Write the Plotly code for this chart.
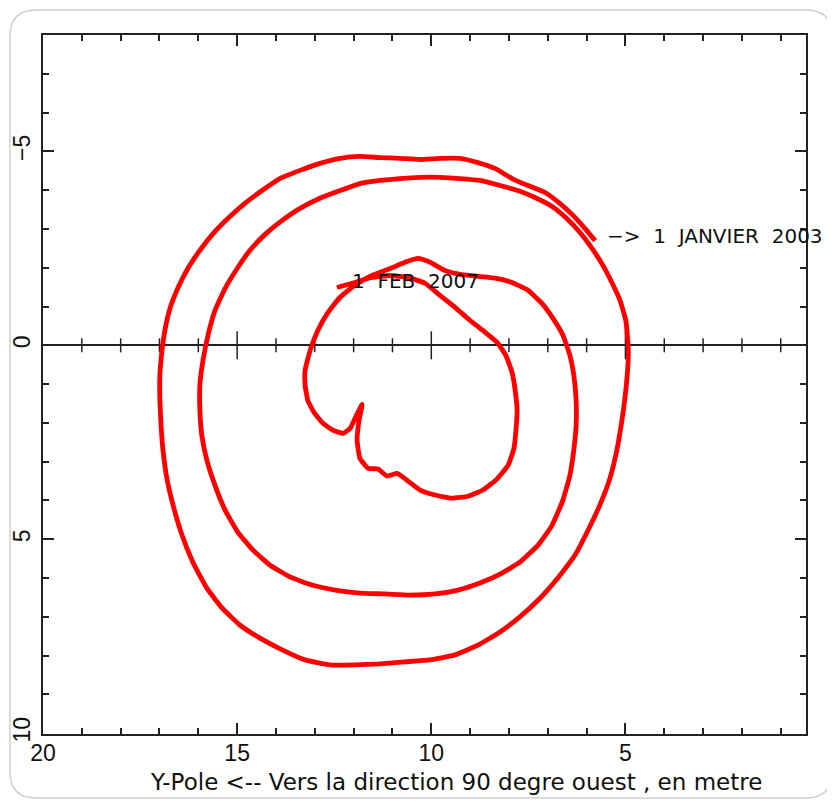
import plotly.graph_objects as go

# Polar motion track (Y-pole, X-pole) in metres, 1 Jan 2003 -> 1 Feb 2007
x_pole = [5.78, 6.04, 6.35, 6.69, 7.07, 7.51, 7.92, 8.36, 8.80, 9.26,
          9.78, 10.29, 10.81, 11.32, 11.84, 12.35, 12.87, 13.38, 13.90, 14.36,
          14.80, 15.24, 15.62, 15.96, 16.27, 16.52, 16.73, 16.86, 16.94, 16.99,
          16.99, 16.96, 16.91, 16.81, 16.65, 16.42, 16.14, 15.78, 15.39, 14.93,
          14.41, 13.84, 13.25, 12.61, 11.97, 11.32, 10.68, 10.03, 9.39, 8.80,
          8.23, 7.72, 7.20, 6.74, 6.30, 5.96, 5.66, 5.40, 5.22, 5.09,
          4.99, 4.93, 4.93, 4.99, 5.14, 5.35, 5.58, 5.86, 6.17, 6.51,
          6.89, 7.33, 7.77, 8.23, 8.75, 9.26, 9.78, 10.29, 10.81, 11.32,
          11.84, 12.35, 12.87, 13.38, 13.84, 14.28, 14.67, 15.00, 15.31, 15.57,
          15.75, 15.88, 15.96, 15.96, 15.91, 15.78, 15.57, 15.31, 14.98, 14.59,
          14.15, 13.64, 13.07, 12.48, 11.84, 11.19, 10.55, 9.90, 9.31, 8.75,
          8.23, 7.72, 7.25, 6.89, 6.61, 6.43, 6.33, 6.27, 6.27, 6.33,
          6.43, 6.61, 6.87, 7.15, 7.51, 7.92, 8.36, 8.80, 9.26, 9.65,
          10.03, 10.34, 10.68, 11.06, 11.53, 11.97, 12.35, 12.66, 12.92, 13.12,
          13.25, 13.25, 13.18, 13.02, 12.79, 12.53, 12.27, 12.09, 11.94, 11.78,
          11.86, 11.91, 11.84, 11.63, 11.37, 11.14, 10.88, 10.60, 10.29, 9.90,
          9.47, 9.05, 8.67, 8.31, 8.02, 7.87, 7.82, 7.79, 7.84, 7.92,
          8.08, 8.31, 8.62, 9.00, 9.39, 9.78, 10.16, 10.60, 11.06, 11.53,
          11.97, 12.43]
y_pole = [-2.70, -3.01, -3.35, -3.66, -3.94, -4.12, -4.30, -4.56, -4.71, -4.82,
          -4.82, -4.79, -4.82, -4.84, -4.87, -4.82, -4.69, -4.51, -4.30, -3.99,
          -3.66, -3.27, -2.88, -2.45, -1.98, -1.49, -0.95, -0.39, 0.18, 0.77,
          1.42, 2.06, 2.70, 3.43, 4.12, 4.89, 5.59, 6.26, 6.77, 7.21,
          7.55, 7.85, 8.11, 8.24, 8.24, 8.21, 8.16, 8.11, 7.98, 7.73,
          7.39, 7.00, 6.52, 6.00, 5.41, 4.76, 4.12, 3.43, 2.70, 1.93,
          1.16, 0.39, 0.00, -0.64, -1.16, -1.62, -2.06, -2.50, -2.91, -3.27,
          -3.58, -3.81, -3.99, -4.12, -4.25, -4.30, -4.33, -4.33, -4.30, -4.25,
          -4.17, -3.99, -3.79, -3.53, -3.22, -2.86, -2.45, -1.98, -1.47, -0.90,
          -0.26, 0.39, 1.03, 1.67, 2.32, 2.96, 3.61, 4.25, 4.82, 5.28,
          5.67, 5.97, 6.18, 6.31, 6.39, 6.41, 6.44, 6.41, 6.31, 6.13,
          5.90, 5.59, 5.15, 4.64, 3.99, 3.35, 2.70, 2.06, 1.42, 0.77,
          0.26, -0.26, -0.70, -1.08, -1.42, -1.62, -1.73, -1.78, -1.83, -1.93,
          -2.14, -2.24, -2.14, -1.98, -1.80, -1.55, -1.24, -0.85, -0.39, 0.13,
          0.64, 1.03, 1.42, 1.73, 2.01, 2.19, 2.27, 2.14, 1.83, 1.52,
          1.93, 2.45, 2.91, 3.17, 3.19, 3.37, 3.30, 3.50, 3.73, 3.86,
          3.94, 3.89, 3.73, 3.45, 3.09, 2.65, 2.19, 1.67, 1.16, 0.70,
          0.26, -0.08, -0.34, -0.64, -0.98, -1.29, -1.60, -1.75, -1.80, -1.75,
          -1.62, -1.49]

# tick marks drawn along the y = 0 line
zero_minor = [1, 2, 3, 4, 6, 7, 8, 9, 11, 12, 13, 14, 16, 17, 18, 19]
zero_major = [5, 10, 15]

# labels
start_label = "\u2212&gt;\u00a0\u00a01\u00a0\u00a0JANVIER\u00a0\u00a02003"
start_pos = (5.53, -2.83)
end_label = "1\u00a0\u00a0FEB\u00a0\u00a02007"
end_pos = (12.09, -1.67)
x_title = "Y-Pole &lt;-- Vers la direction 90 degre ouest , en metre"

# page body has an 8px margin; figure is sized so the plot lands in place
OFF = 8
W, H = 835 - OFF, 805 - OFF
ML, MR, MT, MB = 43 - OFF, 29, 35 - OFF, 71
INK = "#222222"
FONT = "Liberation Sans, Arial, sans-serif"
TFONT = "DejaVu Sans, Verdana, sans-serif"

fig = go.Figure()
fig.add_trace(go.Scatter(
    x=zero_minor, y=[0] * len(zero_minor), mode="markers", hoverinfo="skip",
    marker=dict(symbol="line-ns", size=10, line=dict(width=1.5, color=INK)),
    showlegend=False))
fig.add_trace(go.Scatter(
    x=zero_major, y=[0] * len(zero_major), mode="markers", hoverinfo="skip",
    marker=dict(symbol="line-ns", size=20, line=dict(width=1.5, color=INK)),
    showlegend=False))
fig.add_trace(go.Scatter(
    x=x_pole, y=y_pole, mode="lines", showlegend=False,
    line=dict(color="#ff0000", width=4.8, shape="spline", smoothing=0.4)))

axis_common = dict(
    automargin=False,
    showgrid=False, showline=True, linecolor=INK, linewidth=2, mirror="allticks",
    ticks="inside", ticklen=11, tickwidth=1.5, tickcolor=INK,
    tickmode="linear", tick0=0, dtick=5,
    minor=dict(ticks="inside", ticklen=6, tickwidth=1.5, tickcolor=INK,
               dtick=1, tick0=0, showgrid=False),
    tickfont=dict(family=FONT, size=23, color="#111111"),
)

fig.update_layout(
    width=W, height=H,
    margin=dict(l=ML, r=MR, t=MT, b=MB, autoexpand=False),
    paper_bgcolor="white", plot_bgcolor="white",
    xaxis=dict(range=[20, 0.35], zeroline=False, ticklabelstandoff=-3,
               **axis_common),
    yaxis=dict(range=[10.02, -8], zeroline=True, zerolinecolor=INK,
               zerolinewidth=1.5, tickangle=-90, ticklabelstandoff=2,
               **axis_common),
)

fig.add_annotation(x=start_pos[0], y=start_pos[1], text=start_label,
                   showarrow=False, xanchor="left", yanchor="middle",
                   font=dict(family=TFONT, size=20, color="#111111"))
fig.add_annotation(x=end_pos[0], y=end_pos[1], text=end_label,
                   showarrow=False, xanchor="left", yanchor="middle",
                   font=dict(family=TFONT, size=20, color="#111111"))
fig.add_annotation(xref="paper", yref="paper", x=0.541, y=-0.068,
                   text=x_title, showarrow=False, xanchor="center",
                   yanchor="middle",
                   font=dict(family=TFONT, size=23, color="#111111"))

# rounded card outline around the whole picture (screen pixels -> paper)
pw, ph = W - ML - MR, H - MT - MB
def px(v):
    return (v - OFF - ML) / pw
def py(v):
    return (H - MB - (v - OFF)) / ph
x0, x1, y0, y1 = px(10), px(832), py(798), py(10)
rx, ry = 26 / pw, 26 / ph
path = (f"M {x0+rx},{y1} L {x1-rx},{y1} Q {x1},{y1} {x1},{y1-ry} "
        f"L {x1},{y0+ry} Q {x1},{y0} {x1-rx},{y0} L {x0+rx},{y0} "
        f"Q {x0},{y0} {x0},{y0+ry} L {x0},{y1-ry} Q {x0},{y1} {x0+rx},{y1} Z")
fig.add_shape(type="path", path=path, xref="paper", yref="paper",
              line=dict(color="#cfcfcf", width=1.5), layer="below")

fig.write_html("out.html")
